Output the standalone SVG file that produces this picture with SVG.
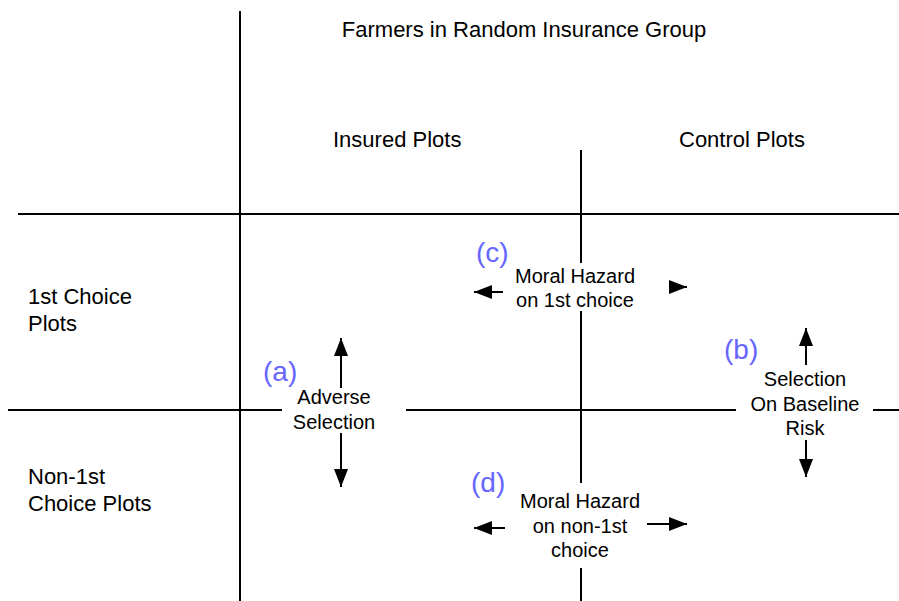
<svg xmlns="http://www.w3.org/2000/svg" width="899" height="601" viewBox="0 0 899 601">
<defs>
<style>
.ln{stroke:#000;stroke-width:2;fill:none}
.ar{stroke:#000;stroke-width:2;fill:none}
.t{font-family:"Liberation Sans",Arial,sans-serif;fill:#000}
.h{font-size:22px}
.s{font-size:20px}
.lab{font-family:"Liberation Sans",Arial,sans-serif;font-size:28px;fill:#6666ff}
.m{text-anchor:middle}
</style>
<marker id="ah" viewBox="0 0 18 14" refX="18" refY="7" markerWidth="18" markerHeight="14" markerUnits="userSpaceOnUse" orient="auto">
<path d="M0,0 L18,7 L0,14 z" fill="#000"/>
</marker>
</defs>
<rect width="899" height="601" fill="#fff"/>
<g id="grid">
<line class="ln" x1="240" y1="11" x2="240" y2="601"/>
<line class="ln" x1="18" y1="214" x2="899" y2="214"/>
<line class="ln" x1="581" y1="150" x2="581" y2="263"/>
<line class="ln" x1="581" y1="311" x2="581" y2="483"/>
<line class="ln" x1="581" y1="568" x2="581" y2="601"/>
<line class="ln" x1="8" y1="410" x2="282" y2="410"/>
<line class="ln" x1="406" y1="410" x2="736" y2="410"/>
<line class="ln" x1="873" y1="410" x2="899" y2="410"/>
</g>
<g id="headers">
<text class="t h m" x="524" y="37">Farmers in Random Insurance Group</text>
<text class="t h" x="333" y="147">Insured Plots</text>
<text class="t h" x="679" y="147">Control Plots</text>
<text class="t h" x="28" y="304">1st Choice</text>
<text class="t h" x="28" y="331">Plots</text>
<text class="t h" x="28" y="484">Non-1st</text>
<text class="t h" x="28" y="511">Choice Plots</text>
</g>
<g id="node-a">
<text class="lab" x="263" y="381">(a)</text>
<text class="t s m" x="334" y="404">Adverse</text>
<text class="t s m" x="334" y="429">Selection</text>
</g>
<g id="node-b">
<text class="lab" x="724" y="359">(b)</text>
<text class="t s m" x="805" y="386">Selection</text>
<text class="t s m" x="805" y="411">On Baseline</text>
<text class="t s m" x="805" y="435">Risk</text>
</g>
<g id="node-c">
<text class="lab" x="476" y="262">(c)</text>
<text class="t s m" x="575" y="283">Moral Hazard</text>
<text class="t s m" x="575" y="307">on 1st choice</text>
</g>
<g id="node-d">
<text class="lab" x="471" y="492">(d)</text>
<text class="t s m" x="580" y="508">Moral Hazard</text>
<text class="t s m" x="580" y="533">on non-1st</text>
<text class="t s m" x="580" y="557">choice</text>
</g>
<g id="connectors">
<line class="ar" x1="341" y1="388" x2="341" y2="338" marker-end="url(#ah)"/>
<line class="ar" x1="341" y1="433" x2="341" y2="487" marker-end="url(#ah)"/>
<line class="ar" x1="806" y1="365" x2="806" y2="328" marker-end="url(#ah)"/>
<line class="ar" x1="806" y1="440" x2="806" y2="477" marker-end="url(#ah)"/>
<line class="ar" x1="503" y1="292" x2="474" y2="292" marker-end="url(#ah)"/>
<line class="ar" x1="670" y1="287" x2="687" y2="287" marker-end="url(#ah)"/>
<line class="ar" x1="505" y1="528" x2="474" y2="528" marker-end="url(#ah)"/>
<line class="ar" x1="647" y1="524" x2="687" y2="524" marker-end="url(#ah)"/>
</g>
</svg>
